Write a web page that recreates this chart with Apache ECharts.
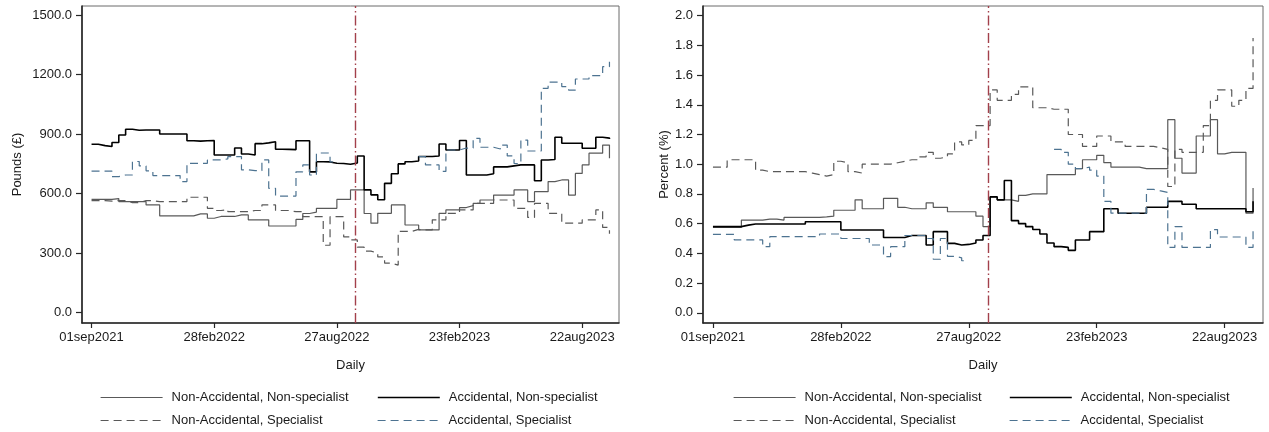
<!DOCTYPE html>
<html>
<head>
<meta charset="utf-8">
<title>Daily premiums and rates by claim type</title>
<script src="https://cdn.jsdelivr.net/npm/echarts@6/dist/echarts.min.js"></script>
<style>
  html, body { margin: 0; padding: 0; background: #ffffff; }
  #chart { width: 1269px; height: 432px; }
</style>
</head>
<body>
<div id="chart"></div>
<script>
// Sample dates, as days since 01sep2021
const sampleDays = [
  0, 10, 20, 30, 40, 50, 60, 70, 80, 90,
  100, 110, 120, 130, 140, 150, 160, 170, 180, 190,
  200, 210, 220, 230, 240, 250, 260, 270, 280, 290,
  300, 310, 320, 330, 340, 350, 360, 370, 380, 390,
  400, 410, 420, 430, 440, 450, 460, 470, 480, 490,
  500, 510, 520, 530, 540, 550, 560, 570, 580, 590,
  600, 610, 620, 630, 640, 650, 660, 670, 680, 690,
  700, 710, 720, 730, 740, 750, 760
];

// Axis ticks
const xTickDays = [0, 180, 360, 540, 720];
const xTickLabels = ['01sep2021', '28feb2022', '27aug2022', '23feb2023', '22aug2023'];
const poundTicks = [0, 300, 600, 900, 1200, 1500];
const percentTicks = [0, 0.2, 0.4, 0.6, 0.8, 1.0, 1.2, 1.4, 1.6, 1.8, 2.0];

// 23sep2022
const eventDay = 387;

const seriesNames = [
  'Non-Accidental, Non-specialist',
  'Accidental, Non-specialist',
  'Non-Accidental, Specialist',
  'Accidental, Specialist'
];

// Pounds (£)
const poundsNonAccNonSpec = [
  571, 571, 571, 575, 560, 560, 560, 560, 543, 543,
  488, 488, 488, 488, 488, 498, 498, 476, 485, 485,
  485, 493, 493, 468, 468, 468, 437, 437, 437, 437,
  470, 500, 507, 526, 526, 526, 571, 571, 619, 619,
  500, 451, 501, 501, 543, 543, 442, 442, 417, 417,
  417, 501, 518, 518, 530, 540, 551, 568, 568, 593,
  593, 593, 619, 619, 560, 610, 610, 661, 669, 669,
  593, 702, 745, 804, 804, 845, 778
];
const poundsAccNonSpec = [
  849, 842, 838, 858, 896, 925, 920, 921, 921, 921,
  901, 901, 901, 901, 867, 865, 867, 868, 795, 795,
  795, 830, 800, 795, 852, 856, 862, 824, 823, 822,
  867, 867, 710, 761, 760, 753, 752, 748, 755, 790,
  619, 594, 569, 652, 700, 750, 761, 765, 787, 787,
  790, 850, 820, 820, 868, 694, 694, 694, 700, 735,
  735, 740, 745, 745, 745, 665, 770, 772, 884, 854,
  854, 854, 829, 829, 884, 880, 876
];
const poundsNonAccSpec = [
  565, 565, 562, 565, 565, 555, 555, 565, 565, 560,
  560, 560, 560, 560, 582, 582, 582, 526, 515, 520,
  509, 509, 509, 515, 515, 543, 543, 515, 515, 509,
  509, 484, 484, 484, 340, 484, 484, 382, 367, 330,
  310, 300, 281, 250, 240, 410, 410, 420, 417, 417,
  468, 468, 501, 501, 518, 518, 551, 551, 551, 568,
  568, 568, 526, 526, 480, 551, 551, 501, 501, 451,
  451, 451, 468, 468, 518, 430, 398
];
const poundsAccSpec = [
  714, 714, 714, 686, 694, 694, 762, 740, 715, 691,
  691, 691, 691, 661, 753, 753, 753, 770, 770, 775,
  787, 787, 720, 716, 716, 770, 627, 588, 588, 588,
  710, 745, 694, 805, 805, 760, null, null, null, null,
  null, null, null, null, null, null, null, null, 787, 745,
  745, 712, 820, 820, 830, 830, 879, 834, 834, 825,
  845, 790, 752, 870, 815, 815, 1131, 1162, 1162, 1140,
  1122, 1178, 1178, 1195, 1195, 1240, 1265
];

// Percent (%)
const percentNonAccNonSpec = [
  0.575, 0.575, 0.575, 0.575, 0.624, 0.624, 0.624, 0.63, 0.63, 0.624,
  0.642, 0.642, 0.642, 0.642, 0.642, 0.645, 0.65, 0.69, 0.69, 0.69,
  0.76, 0.70, 0.70, 0.70, 0.77, 0.77, 0.71, 0.70, 0.70, 0.70,
  0.74, 0.71, 0.71, 0.68, 0.68, 0.68, 0.68, 0.65, 0.58, 0.78,
  0.76, 0.76, 0.75, 0.79, 0.80, 0.80, 0.80, 0.93, 0.93, 0.93,
  0.93, 0.97, 1.03, 1.03, 1.06, 1.01, 0.98, 0.98, 0.98, 0.98,
  0.97, 0.97, 0.97, 0.97, 1.30, 1.04, 0.94, 0.94, 1.19, 1.19,
  1.30, 1.07, 1.08, 1.08, 1.08, 0.67, 0.84
];
const percentAccNonSpec = [
  0.58, 0.58, 0.58, 0.58, 0.59, 0.597, 0.597, 0.597, 0.597, 0.597,
  0.597, 0.597, 0.597, 0.613, 0.613, 0.613, 0.613, 0.613, 0.557, 0.557,
  0.557, 0.557, 0.557, 0.557, 0.507, 0.507, 0.507, 0.52, 0.52, 0.52,
  0.456, 0.546, 0.546, 0.467, 0.456, 0.46, 0.47, 0.49, 0.52, 0.78,
  0.76, 0.89, 0.62, 0.60, 0.58, 0.56, 0.53, 0.47, 0.445, 0.44,
  0.42, 0.49, 0.49, 0.546, 0.546, 0.70, 0.70, 0.67, 0.67, 0.67,
  0.67, 0.71, 0.71, 0.71, 0.75, 0.75, 0.73, 0.73, 0.70, 0.70,
  0.70, 0.70, 0.70, 0.70, 0.70, 0.68, 0.75
];
const percentNonAccSpec = [
  0.98, 0.98, 1.03, 1.03, 1.03, 1.03, 0.96, 0.95, 0.95, 0.95,
  0.95, 0.95, 0.95, 0.94, 0.93, 0.92, 0.93, 1.02, 1.01, 0.95,
  0.94, 1.00, 1.00, 1.00, 1.00, 1.01, 1.02, 1.03, 1.03, 1.05,
  1.08, 1.04, 1.05, 1.07, 1.15, 1.13, 1.16, 1.26, 1.26, 1.50,
  1.43, 1.43, 1.47, 1.52, 1.52, 1.38, 1.38, 1.37, 1.37, 1.37,
  1.20, 1.20, 1.12, 1.12, 1.19, 1.19, 1.15, 1.15, 1.12, 1.12,
  1.12, 1.12, 1.11, 1.10, 0.85, 1.10, 1.08, 1.08, 1.08, 1.26,
  1.43, 1.50, 1.50, 1.39, 1.43, 1.51, 1.85
];
const percentAccSpec = [
  0.528, 0.528, 0.528, 0.49, 0.49, 0.49, 0.49, 0.445, 0.512, 0.512,
  0.512, 0.512, 0.512, 0.512, 0.512, 0.53, 0.53, 0.53, 0.50, 0.50,
  0.50, 0.50, 0.456, 0.456, 0.378, 0.445, 0.445, 0.52, 0.52, 0.52,
  0.50, 0.36, 0.50, 0.38, 0.37, 0.35, null, null, null, null,
  null, null, null, null, null, null, null, null, 1.10, 1.08,
  1.00, 0.97, 0.98, 0.96, 0.92, 0.75, 0.67, 0.67, 0.67, 0.67,
  0.67, 0.83, 0.82, 0.81, 0.44, 0.58, 0.44, 0.44, 0.44, 0.44,
  0.56, 0.51, 0.51, 0.51, 0.51, 0.44, 0.58
];

const FONT = "'Liberation Sans', Arial, sans-serif";
const TEXT = '#1a1a1a';
const AXIS = '#262626';

const lineStyles = [
  { color: '#595959', width: 1.2, type: 'solid' },
  { color: '#000000', width: 1.6, type: 'solid' },
  { color: '#595959', width: 1.2, type: [8, 5] },
  { color: '#4d7391', width: 1.2, type: [8, 5] }
];

function toPairs(values) {
  return sampleDays.map((d, i) => [d, values[i]]);
}

function makeSeries(idx, values, panel) {
  const s = {
    type: 'line',
    name: seriesNames[idx],
    xAxisIndex: panel,
    yAxisIndex: panel,
    data: toPairs(values),
    step: 'end',
    symbol: 'none',
    connectNulls: false,
    silent: true,
    animation: false,
    lineStyle: lineStyles[idx],
    itemStyle: { color: lineStyles[idx].color }
  };
  if (idx === 0) {
    s.markLine = {
      symbol: 'none',
      silent: true,
      animation: false,
      label: { show: false },
      lineStyle: { color: '#a3404b', width: 1.4, type: [10, 3, 1.5, 3] },
      data: [{ xAxis: eventDay }]
    };
  }
  return s;
}

function xAxisFor(panel) {
  return {
    type: 'value',
    gridIndex: panel,
    min: -14,
    max: 774,
    name: 'Daily',
    nameLocation: 'middle',
    nameGap: 36,
    nameTextStyle: { fontFamily: FONT, fontSize: 13, color: TEXT },
    axisLine: { show: true, onZero: false, lineStyle: { color: AXIS, width: 1.6 } },
    axisTick: { show: true, length: 5, customValues: xTickDays, lineStyle: { color: AXIS, width: 1.2 } },
    axisLabel: {
      customValues: xTickDays,
      margin: 8,
      fontFamily: FONT, fontSize: 13, color: TEXT,
      formatter: v => xTickLabels[xTickDays.indexOf(v)] || ''
    },
    splitLine: { show: false }
  };
}

function yAxisFor(panel, min, max, ticks, title, gap) {
  return {
    type: 'value',
    gridIndex: panel,
    min: min,
    max: max,
    name: title,
    nameLocation: 'middle',
    nameGap: gap,
    nameTextStyle: { fontFamily: FONT, fontSize: 13, color: TEXT },
    axisLine: { show: true, onZero: false, lineStyle: { color: AXIS, width: 1.6 } },
    axisTick: { show: true, length: 6, customValues: ticks, lineStyle: { color: AXIS, width: 1.2 } },
    axisLabel: {
      customValues: ticks,
      margin: 10,
      fontFamily: FONT, fontSize: 13, color: TEXT,
      formatter: v => Number(v).toFixed(1)
    },
    splitLine: { show: false }
  };
}

// One legend entry per component, so each sits exactly in its column and row
function legendAt(left, top, idx) {
  return {
    left: left,
    top: top,
    padding: 0,
    selectedMode: false,
    itemWidth: 62,
    itemHeight: 14,
    itemStyle: { opacity: 0 },
    lineStyle: { type: lineStyles[idx].type, width: lineStyles[idx].width },
    data: [seriesNames[idx]],
    textStyle: { fontFamily: FONT, fontSize: 13, color: TEXT, padding: [0, 0, 0, 4] }
  };
}

const chart = echarts.init(document.getElementById('chart'), null, { renderer: 'canvas' });

chart.setOption({
  backgroundColor: '#ffffff',
  animation: false,
  grid: [
    { left: 82, top: 6, width: 537, height: 317, show: true, borderColor: '#6a6a6a', borderWidth: 1, backgroundColor: 'transparent' },
    { left: 703, top: 6, width: 560, height: 317, show: true, borderColor: '#6a6a6a', borderWidth: 1, backgroundColor: 'transparent' }
  ],
  xAxis: [xAxisFor(0), xAxisFor(1)],
  yAxis: [
    yAxisFor(0, -52, 1546, poundTicks, 'Pounds (£)', 58),
    yAxisFor(1, -0.069, 2.065, percentTicks, 'Percent (%)', 32)
  ],
  legend: [
    legendAt(100, 391, 0),
    legendAt(100, 414, 2),
    legendAt(377, 391, 1),
    legendAt(377, 414, 3),
    legendAt(733, 391, 0),
    legendAt(733, 414, 2),
    legendAt(1009, 391, 1),
    legendAt(1009, 414, 3)
  ],
  series: [
    makeSeries(0, poundsNonAccNonSpec, 0),
    makeSeries(1, poundsAccNonSpec, 0),
    makeSeries(2, poundsNonAccSpec, 0),
    makeSeries(3, poundsAccSpec, 0),
    makeSeries(0, percentNonAccNonSpec, 1),
    makeSeries(1, percentAccNonSpec, 1),
    makeSeries(2, percentNonAccSpec, 1),
    makeSeries(3, percentAccSpec, 1)
  ]
});
</script>
</body>
</html>
